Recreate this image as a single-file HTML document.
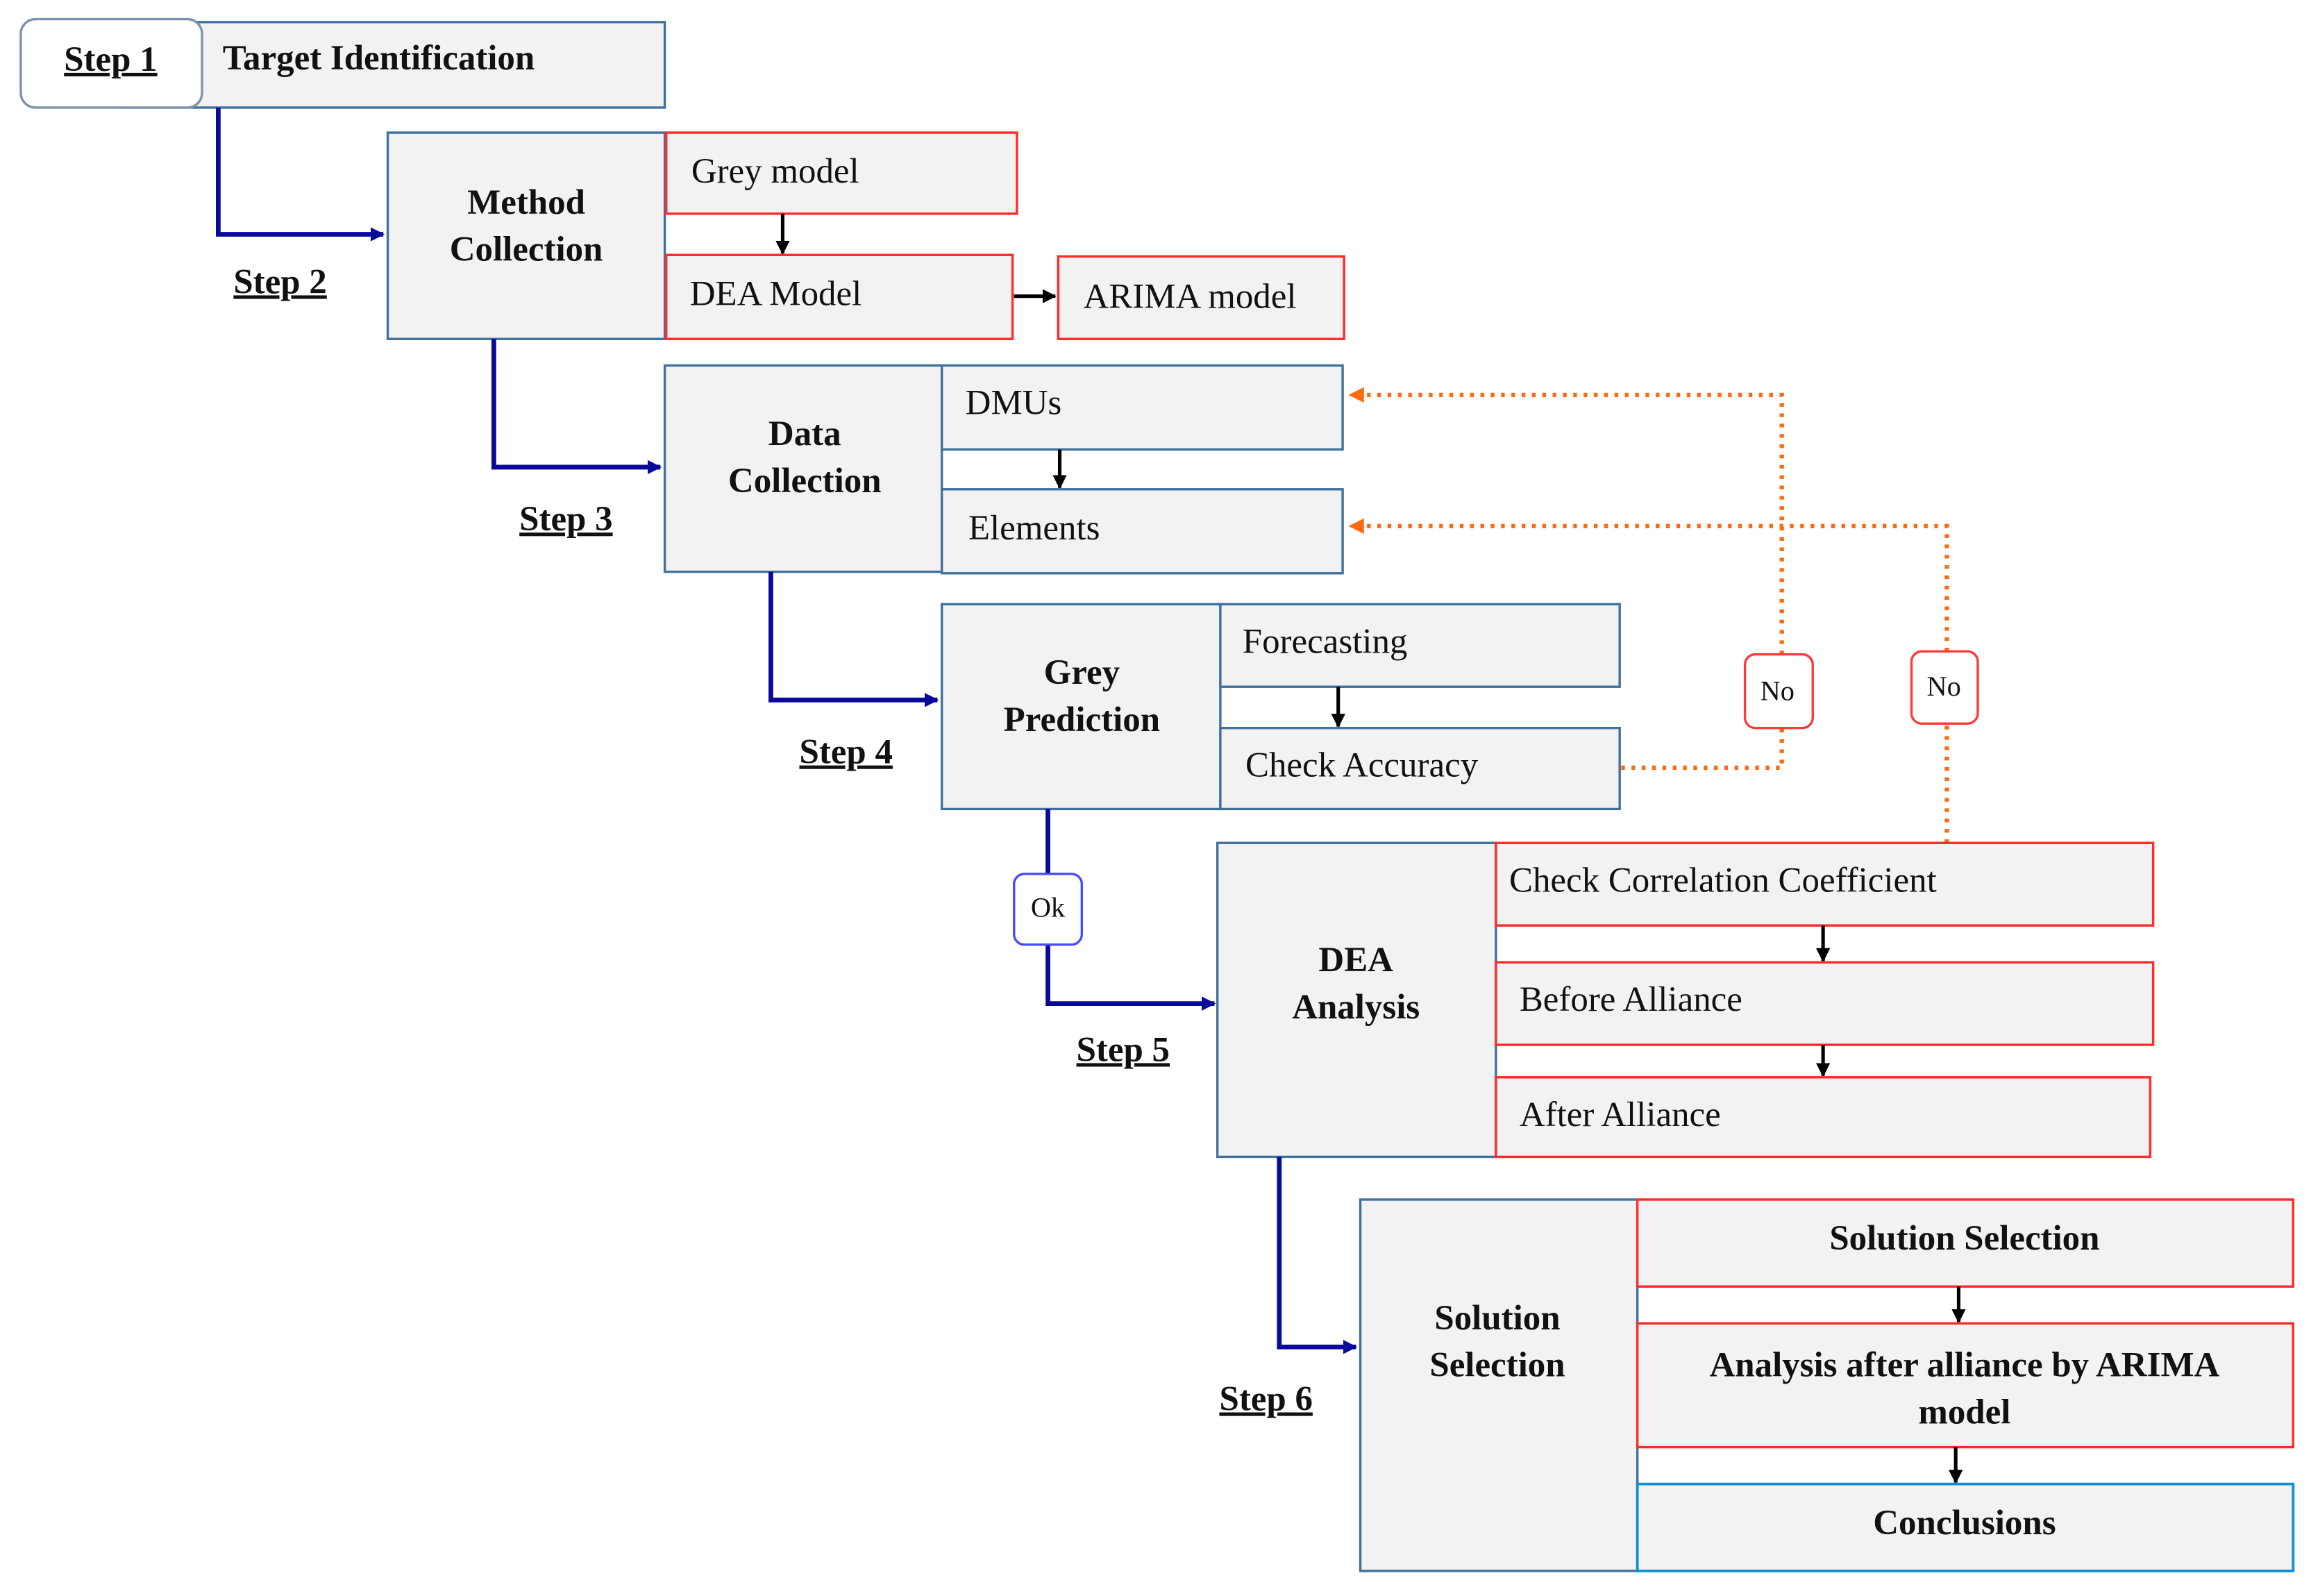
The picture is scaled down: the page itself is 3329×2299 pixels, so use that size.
<!DOCTYPE html>
<html><head><meta charset="utf-8"><style>
html,body{margin:0;padding:0;background:#fff;}
svg{display:block;}
text{font-family:"Liberation Serif",serif;font-size:24px;fill:#111;}
.b{font-weight:bold;}
.g{fill:#f2f2f2;stroke:#41719c;stroke-width:1.6;}
.r{fill:#f2f2f2;stroke:#ff2a2a;stroke-width:1.6;}
.bl{fill:none;stroke:#0a0a9a;stroke-width:3.2;}
.k{fill:none;stroke:#000;stroke-width:2.4;}
.o{fill:none;stroke:#ff6a10;stroke-width:3;stroke-dasharray:2.5 4.5;}
</style></head><body>
<svg width="3329" height="2299" viewBox="0 0 1568 1083" xmlns="http://www.w3.org/2000/svg">
<defs>
<marker id="ab" viewBox="0 0 10 10" refX="9" refY="5" markerWidth="3" markerHeight="3" orient="auto"><path d="M0,0L10,5L0,10z" fill="#0a0a9a"/></marker>
<marker id="ak" viewBox="0 0 10 10" refX="9" refY="5" markerWidth="4" markerHeight="4" orient="auto"><path d="M0,0L10,5L0,10z" fill="#000"/></marker>
<marker id="ao" viewBox="0 0 10 10" refX="9" refY="5" markerWidth="3.5" markerHeight="3.5" orient="auto"><path d="M0,0L10,5L0,10z" fill="#ff6a10"/></marker>
</defs>

<!-- Step 1 -->
<rect class="g" x="82" y="15" width="369" height="58"/>
<rect x="14" y="13" width="123" height="60" rx="10" fill="#fff" stroke="#7f93a8" stroke-width="1.6"/>
<text class="b" x="75" y="48" text-anchor="middle" text-decoration="underline">Step 1</text>
<text class="b" x="151" y="47">Target Identification</text>

<polyline class="bl" points="148,73 148,159 260,159" marker-end="url(#ab)"/>
<text class="b" x="190" y="199" text-anchor="middle" text-decoration="underline">Step 2</text>

<!-- Method -->
<rect class="g" x="263" y="90" width="188" height="140"/>
<text class="b" x="357" y="145" text-anchor="middle">Method</text>
<text class="b" x="357" y="177" text-anchor="middle">Collection</text>
<rect class="r" x="452" y="90" width="238" height="55"/>
<text x="469" y="124">Grey model</text>
<line class="k" x1="531" y1="145" x2="531" y2="172" marker-end="url(#ak)"/>
<rect class="r" x="452" y="173" width="235" height="57"/>
<text x="468" y="207">DEA Model</text>
<line class="k" x1="688" y1="201" x2="716" y2="201" marker-end="url(#ak)"/>
<rect class="r" x="718" y="174" width="194" height="56"/>
<text x="735" y="209">ARIMA model</text>

<polyline class="bl" points="335,230 335,317 448,317" marker-end="url(#ab)"/>
<text class="b" x="384" y="360" text-anchor="middle" text-decoration="underline">Step 3</text>

<!-- Data -->
<rect class="g" x="451" y="248" width="188" height="140"/>
<text class="b" x="546" y="302" text-anchor="middle">Data</text>
<text class="b" x="546" y="334" text-anchor="middle">Collection</text>
<rect class="g" x="639" y="248" width="272" height="57"/>
<text x="655" y="281">DMUs</text>
<line class="k" x1="719" y1="305" x2="719" y2="331" marker-end="url(#ak)"/>
<rect class="g" x="639" y="332" width="272" height="57"/>
<text x="657" y="366">Elements</text>

<polyline class="bl" points="523,388 523,475 636,475" marker-end="url(#ab)"/>
<text class="b" x="574" y="518" text-anchor="middle" text-decoration="underline">Step 4</text>

<!-- Grey prediction -->
<rect class="g" x="639" y="410" width="189" height="139"/>
<text class="b" x="734" y="464" text-anchor="middle">Grey</text>
<text class="b" x="734" y="496" text-anchor="middle">Prediction</text>
<rect class="g" x="828" y="410" width="271" height="56"/>
<text x="843" y="443">Forecasting</text>
<line class="k" x1="908" y1="466" x2="908" y2="493" marker-end="url(#ak)"/>
<rect class="g" x="828" y="494" width="271" height="55"/>
<text x="845" y="527">Check Accuracy</text>

<!-- orange feedback -->
<polyline class="o" points="1100,521 1209,521 1209,494"/>
<polyline class="o" points="1209,444 1209,268 916,268" marker-end="url(#ao)"/>
<polyline class="o" points="1321,572 1321,491"/>
<polyline class="o" points="1321,442 1321,357 916,357" marker-end="url(#ao)"/>
<rect x="1184" y="444" width="46" height="50" rx="7" fill="#fff" stroke="#ff3a3a" stroke-width="1.6"/>
<text x="1206" y="475" text-anchor="middle" style="font-size:19px">No</text>
<rect x="1297" y="442" width="45" height="49" rx="7" fill="#fff" stroke="#ff3a3a" stroke-width="1.6"/>
<text x="1319" y="472" text-anchor="middle" style="font-size:19px">No</text>

<!-- Ok -->
<polyline class="bl" points="711,549 711,593"/>
<polyline class="bl" points="711,641 711,681 824,681" marker-end="url(#ab)"/>
<rect x="688" y="593" width="46" height="48" rx="7" fill="#fff" stroke="#4a4aff" stroke-width="1.6"/>
<text x="711" y="622" text-anchor="middle" style="font-size:19px">Ok</text>
<text class="b" x="762" y="720" text-anchor="middle" text-decoration="underline">Step 5</text>

<!-- DEA analysis -->
<rect class="g" x="826" y="572" width="189" height="213"/>
<text class="b" x="920" y="659" text-anchor="middle">DEA</text>
<text class="b" x="920" y="691" text-anchor="middle">Analysis</text>
<rect class="r" x="1015" y="572" width="446" height="56"/>
<text x="1024" y="605">Check Correlation Coefficient</text>
<line class="k" x1="1237" y1="628" x2="1237" y2="652" marker-end="url(#ak)"/>
<rect class="r" x="1015" y="653" width="446" height="56"/>
<text x="1031" y="686">Before Alliance</text>
<line class="k" x1="1237" y1="709" x2="1237" y2="730" marker-end="url(#ak)"/>
<rect class="r" x="1015" y="731" width="444" height="54"/>
<text x="1031" y="764">After Alliance</text>

<polyline class="bl" points="868,785 868,914 920,914" marker-end="url(#ab)"/>
<text class="b" x="859" y="957" text-anchor="middle" text-decoration="underline">Step 6</text>

<!-- Solution -->
<rect class="g" x="923" y="814" width="188" height="252"/>
<text class="b" x="1016" y="902" text-anchor="middle">Solution</text>
<text class="b" x="1016" y="934" text-anchor="middle">Selection</text>
<rect class="r" x="1111" y="814" width="445" height="59"/>
<text class="b" x="1333" y="848" text-anchor="middle">Solution Selection</text>
<line class="k" x1="1329" y1="873" x2="1329" y2="897" marker-end="url(#ak)"/>
<rect class="r" x="1111" y="898" width="445" height="84"/>
<text class="b" x="1333" y="934" text-anchor="middle">Analysis after alliance by ARIMA</text>
<text class="b" x="1333" y="966" text-anchor="middle">model</text>
<line class="k" x1="1327" y1="982" x2="1327" y2="1006" marker-end="url(#ak)"/>
<rect x="1111" y="1007" width="445" height="59" fill="#f2f2f2" stroke="#1090d0" stroke-width="1.8"/>
<text class="b" x="1333" y="1041" text-anchor="middle">Conclusions</text>
</svg>
</body></html>
